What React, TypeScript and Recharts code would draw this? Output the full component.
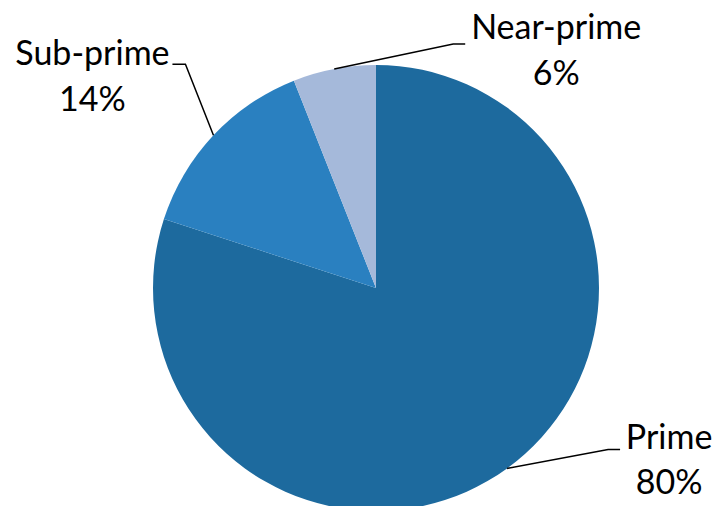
import React from "react";
import { PieChart, Pie, Cell } from "recharts";

const categories = ["Prime", "Sub-prime", "Near-prime"];
const shares = [80, 14, 6];
const colors = ["#1D6A9E", "#2A80C0", "#A5B9DA"];

const data = categories.map((name, i) => ({ name, value: shares[i] }));

// label layout: elbow offset from slice edge point, horizontal run, text centre offset, baseline offsets
const LABEL_LAYOUT = [
  { edx: 101, edy: -19, run: 12, tdx: 49, b1: 0, b2: 45 },
  { edx: -28, edy: -71, run: -13, tdx: -80, b1: 1, b2: 47 },
  { edx: 119, edy: -25, run: 12, tdx: 91, b1: -5, b2: 41 },
];

const RAD = Math.PI / 180;

const renderLabel = (props: any) => {
  const { cx, cy, midAngle, outerRadius, index, name, percent } = props;
  const sx = cx + outerRadius * Math.cos(-midAngle * RAD);
  const sy = cy + outerRadius * Math.sin(-midAngle * RAD);
  const L = LABEL_LAYOUT[index];
  const ex = sx + L.edx;
  const ey = sy + L.edy;
  const fx = ex + L.run;
  const tx = fx + L.tdx;
  return (
    <g key={`lbl-${index}`}>
      <polyline
        points={`${sx},${sy} ${ex},${ey} ${fx},${ey}`}
        fill="none"
        stroke="#000"
        strokeWidth={1.5}
      />
      <text
        x={tx}
        y={ey + L.b1}
        textAnchor="middle"
        fontFamily="Lato, 'Open Sans', sans-serif"
        fontSize={34}
        fill="#000"
      >
        {name}
      </text>
      <text
        x={tx}
        y={ey + L.b2}
        textAnchor="middle"
        fontFamily="Lato, 'Open Sans', sans-serif"
        fontSize={34}
        fill="#000"
      >
        {`${Math.round(percent * 100)}%`}
      </text>
    </g>
  );
};

export default function App() {
  return (
    <div style={{ position: "absolute", left: 0, top: 0, width: 715, height: 506, background: "#fff" }}>
      <PieChart width={715} height={506} margin={{ top: 0, right: 0, bottom: 0, left: 0 }}>
        <Pie
          data={data}
          dataKey="value"
          nameKey="name"
          cx={376}
          cy={288}
          outerRadius={223}
          startAngle={90}
          endAngle={-270}
          stroke="none"
          label={renderLabel}
          labelLine={false}
          isAnimationActive={false}
        >
          {data.map((d, i) => (
            <Cell key={d.name} fill={colors[i]} />
          ))}
        </Pie>
      </PieChart>
    </div>
  );
}
